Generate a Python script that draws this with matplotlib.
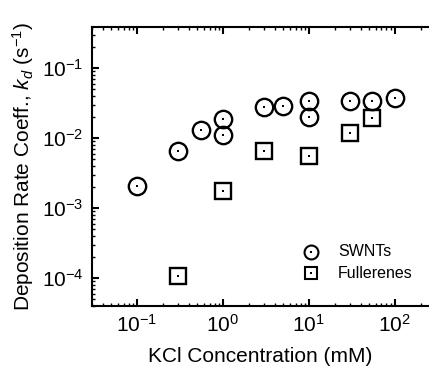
import matplotlib
matplotlib.use("Agg")
import matplotlib.pyplot as plt
from matplotlib.ticker import LogLocator, NullFormatter

plt.rcParams['font.family'] = ['Liberation Sans', 'DejaVu Sans']
plt.rcParams['mathtext.fontset'] = 'custom'
plt.rcParams['mathtext.rm'] = 'Liberation Sans'
plt.rcParams['mathtext.it'] = 'Liberation Sans:italic'
plt.rcParams['mathtext.bf'] = 'Liberation Sans:bold'
plt.rcParams['axes.unicode_minus'] = False

# Data
swnt_kcl = [0.1, 0.3, 0.55, 1.0, 1.0, 3.0, 5.0, 10.0, 10.0, 30.0, 55.0, 100.0]
swnt_kd = [2.04e-3, 6.6e-3, 0.0132, 0.0187, 0.0111, 0.0282, 0.0284, 0.0334, 0.0200, 0.0334, 0.0340, 0.0373]
full_kcl = [0.3, 1.0, 3.0, 10.0, 30.0, 55.0]
full_kd = [1.08e-4, 1.73e-3, 6.44e-3, 5.64e-3, 0.0118, 0.0193]

xlabel = "KCl Concentration (mM)"
ylabel = r"Deposition Rate Coeff., $k_d$ (s$^{-1}$)"
series_names = ["SWNTs", "Fullerenes"]

fig = plt.figure(figsize=(4.29, 3.72), dpi=100)
ax = fig.add_axes([92/429, 1 - 306/372, (429 - 92)/429, (306 - 26.7)/372])

ax.set_xscale('log')
ax.set_yscale('log')
ax.set_xlim(0.03, 250)
ax.set_ylim(4.0e-5, 0.39)

# circles with center dot
ax.plot(swnt_kcl, swnt_kd, linestyle='none', marker='o', markersize=12.5,
        markerfacecolor='none', markeredgecolor='black', markeredgewidth=1.7)
ax.plot(swnt_kcl, swnt_kd, linestyle='none', marker='s', markersize=1.6,
        color='black', markeredgewidth=0)
ax.plot(full_kcl, full_kd, linestyle='none', marker='s', markersize=11,
        markerfacecolor='none', markeredgecolor='black', markeredgewidth=1.7)
ax.plot(full_kcl, full_kd, linestyle='none', marker='s', markersize=1.6,
        color='black', markeredgewidth=0)

# legend drawn manually as real artists in axes-fraction coords
lx = (311 - 92) / 337
for i, (name, mk, ms) in enumerate(zip(series_names, ['o', 's'], [12.5, 11])):
    ly = 1 - (251.7 + i * 21.6 - 26.7) / (306 - 26.7)
    ax.plot([lx], [ly], transform=ax.transAxes, linestyle='none', marker=mk,
            markersize=ms * 0.8, markerfacecolor='none', markeredgecolor='black',
            markeredgewidth=1.5, clip_on=False)
    ax.plot([lx], [ly], transform=ax.transAxes, linestyle='none', marker='s',
            markersize=1.6, color='black', markeredgewidth=0, clip_on=False)
    ax.text(lx + 27/337, ly, name, transform=ax.transAxes, fontsize=11.5,
            va='center', ha='left')

for s in ['left', 'bottom', 'top']:
    ax.spines[s].set_linewidth(1.5)
ax.spines['right'].set_visible(False)

ax.xaxis.set_major_locator(LogLocator(base=10, numticks=20))
ax.xaxis.set_minor_locator(LogLocator(base=10, subs=range(2, 10), numticks=20))
ax.yaxis.set_major_locator(LogLocator(base=10, numticks=20))
ax.yaxis.set_minor_locator(LogLocator(base=10, subs=range(2, 10), numticks=20))
ax.xaxis.set_minor_formatter(NullFormatter())
ax.yaxis.set_minor_formatter(NullFormatter())

ax.tick_params(which='both', direction='in', top=True, right=False)
ax.tick_params(which='major', length=5, width=1.5, labelsize=15, pad=6)
ax.tick_params(which='minor', length=2.5, width=1.0)

ax.set_xlabel(xlabel, fontsize=15, labelpad=8)
ax.set_ylabel(ylabel, fontsize=15, labelpad=4)

fig.savefig("out.png", dpi=100)
